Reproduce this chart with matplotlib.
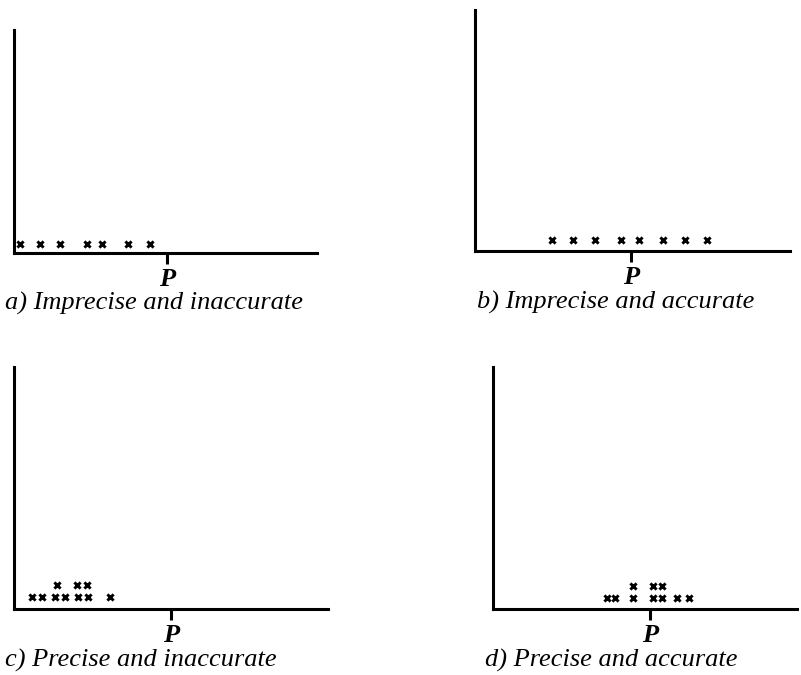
import matplotlib
matplotlib.use("Agg")
import matplotlib.pyplot as plt

# measurement positions relative to the true value P (P = 0), stack level 0/1
a_x = [-147, -127, -107, -80, -65, -39, -17]
a_lvl = [0, 0, 0, 0, 0, 0, 0]
b_x = [-79, -58, -36, -10, 8, 32, 54, 76]
b_lvl = [0, 0, 0, 0, 0, 0, 0, 0]
c_x = [-139, -129, -116, -106, -93, -83, -61, -114, -94, -84]
c_lvl = [0, 0, 0, 0, 0, 0, 0, 1, 1, 1]
d_x = [-43, -35, -17, 3, 12, 27, 39, -17, 3, 12]
d_lvl = [0, 0, 0, 0, 0, 0, 0, 1, 1, 1]

captions = ["a) Imprecise and inaccurate", "b) Imprecise and accurate",
            "c) Precise and inaccurate", "d) Precise and accurate"]
tick_label = "P"

W, H = 801, 675
fig = plt.figure(figsize=(W / 100, H / 100), dpi=100)

# pixel layout: left, right, top, bottom, P position, caption x, caption y, base offset
panels = [
    (a_x, a_lvl, 14, 317, 30, 253, 167, 5, 303, 9),
    (b_x, b_lvl, 475, 790, 10, 251, 631, 477, 302, 11),
    (c_x, c_lvl, 14, 328, 367, 609, 171, 5, 660, 12),
    (d_x, d_lvl, 493, 797, 367, 609, 650, 485, 660, 11),
]

for (xs, lv, l, r, t, b, p, cx, cy, base), cap in zip(panels, captions):
    ax = fig.add_axes([l / W, 1 - b / H, (r - l) / W, (b - t) / H])
    hpx = b - t
    step = 12.0
    span = hpx / step
    lo = -base / step
    ax.set_ylim(lo, lo + span)
    ax.set_xlim(-(p - l), r - p)
    ax.scatter(xs, lv, marker="x", s=20, linewidths=2.1, color="black", zorder=3)
    for s in ["top", "right"]:
        ax.spines[s].set_visible(False)
    for s in ["left", "bottom"]:
        ax.spines[s].set_linewidth(2.2)
        ax.spines[s].set_color("black")
    ax.set_yticks([])
    ax.set_xticks([0])
    ax.set_xticklabels([tick_label], fontsize=19, fontweight="bold",
                       fontstyle="italic", family="Liberation Serif")
    ax.tick_params(axis="x", direction="out", length=8, width=2.2, pad=3)
    fig.text(cx / W, 1 - cy / H, cap, fontsize=19, fontstyle="italic",
             family="Liberation Serif", ha="left", va="center")

fig.savefig("out.png", dpi=100)
